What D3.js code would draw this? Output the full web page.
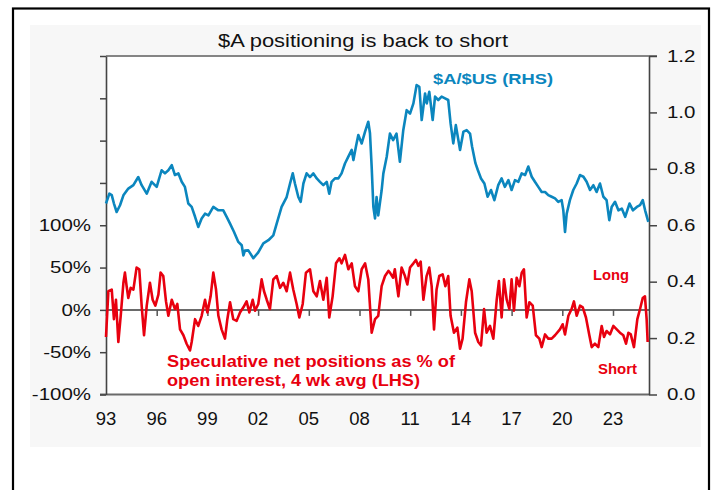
<!DOCTYPE html>
<html><head><meta charset="utf-8">
<script src="https://cdn.jsdelivr.net/npm/d3@7"></script>
<style>
body{margin:0;background:#fff}
svg{display:block}
text{font-family:"Liberation Sans",Arial,sans-serif}
</style>
</head><body>
<svg id="c" width="717" height="490"></svg>
<script>
// ---------- data ----------
const title = "$A positioning is back to short";
const xTickYears = [1993,1996,1999,2002,2005,2008,2011,2014,2017,2020,2023];
const xTickLabels = ["93","96","99","02","05","08","11","14","17","20","23"];
const leftTicks = [-100,-50,0,50,100,150,200,250,300];
const leftLabels = ["-100%","-50%","0%","50%","100%","","","",""];
const rightTicks = [0,0.2,0.4,0.6,0.8,1.0,1.2];
const rightLabels = ["0.0","0.2","0.4","0.6","0.8","1.0","1.2"];

// $A/$US (RHS)
const audT = [1993.00,1993.20,1993.34,1993.47,1993.63,1993.83,1994.03,1994.32,1994.62,1994.91,
1995.11,1995.41,1995.70,1996.00,1996.29,1996.49,1996.69,1996.89,1997.08,1997.28,1997.48,1997.67,
1997.87,1998.07,1998.27,1998.46,1998.66,1998.86,1999.06,1999.35,1999.65,1999.94,2000.14,2000.34,
2000.57,2000.83,2001.03,2001.13,2001.22,2001.42,2001.72,2002.01,2002.31,2002.61,2002.90,2003.10,
2003.39,2003.69,2003.89,2004.05,2004.18,2004.38,2004.52,2004.68,2004.87,2005.07,2005.27,2005.47,
2005.66,2005.86,2006.06,2006.21,2006.35,2006.55,2006.75,2006.94,2007.14,2007.34,2007.54,2007.64,
2007.79,2007.93,2008.13,2008.33,2008.52,2008.62,2008.72,2008.82,2008.92,2009.01,2009.11,2009.31,
2009.41,2009.61,2009.80,2009.99,2010.19,2010.39,2010.59,2010.79,2010.99,2011.19,2011.38,2011.54,
2011.68,2011.88,2011.98,2012.13,2012.33,2012.47,2012.66,2012.86,2013.06,2013.25,2013.39,2013.55,
2013.70,2013.95,2014.15,2014.34,2014.54,2014.66,2014.86,2015.00,2015.19,2015.39,2015.58,2015.78,
2015.98,2016.21,2016.41,2016.60,2016.81,2017.00,2017.20,2017.40,2017.60,2017.80,2017.99,2018.19,
2018.38,2018.58,2018.78,2018.98,2019.17,2019.37,2019.57,2019.76,2019.96,2020.06,2020.16,2020.26,
2020.45,2020.65,2020.85,2021.05,2021.25,2021.44,2021.64,2021.84,2022.03,2022.23,2022.43,2022.62,
2022.78,2022.92,2023.12,2023.32,2023.52,2023.72,2023.98,2024.18,2024.41,2024.60,2024.76,2024.90,2025.09];
const audV = [0.677,0.712,0.707,0.677,0.647,0.671,0.706,0.730,0.742,0.771,
0.742,0.712,0.754,0.736,0.795,0.784,0.795,0.813,0.778,0.784,0.754,0.736,
0.677,0.665,0.630,0.594,0.624,0.641,0.635,0.665,0.653,0.653,0.630,0.606,
0.577,0.541,0.529,0.493,0.510,0.511,0.483,0.504,0.536,0.547,0.564,0.606,
0.665,0.700,0.748,0.784,0.748,0.700,0.683,0.748,0.784,0.771,0.784,0.766,
0.754,0.742,0.754,0.712,0.754,0.766,0.766,0.784,0.819,0.843,0.867,0.831,
0.879,0.920,0.890,0.932,0.967,0.926,0.807,0.665,0.624,0.700,0.635,0.724,
0.783,0.843,0.925,0.902,0.925,0.825,0.937,1.008,0.996,1.032,1.097,1.091,
0.973,1.067,1.032,1.073,0.973,1.056,1.044,1.056,1.050,1.044,0.961,0.890,
0.955,0.867,0.932,0.937,0.925,0.879,0.820,0.796,0.766,0.748,0.701,0.725,
0.689,0.742,0.766,0.736,0.760,0.725,0.760,0.754,0.784,0.778,0.808,0.772,
0.754,0.736,0.718,0.718,0.707,0.701,0.695,0.683,0.689,0.653,0.576,0.641,
0.689,0.725,0.748,0.778,0.772,0.754,0.725,0.742,0.718,0.748,0.701,0.689,
0.618,0.665,0.683,0.653,0.659,0.630,0.677,0.653,0.665,0.671,0.689,0.653,0.612];

// Speculative net positions as % of open interest (LHS)
const posT = [1993.00,1993.14,1993.34,1993.47,1993.59,1993.73,1993.87,1994.03,1994.12,1994.22,
1994.32,1994.46,1994.62,1994.81,1994.97,1995.11,1995.25,1995.41,1995.60,1995.76,1995.92,1996.10,
1996.23,1996.39,1996.55,1996.69,1996.89,1997.08,1997.22,1997.38,1997.58,1997.77,1997.97,1998.07,
1998.27,1998.46,1998.66,1998.86,1999.00,1999.19,1999.35,1999.51,1999.65,1999.84,2000.04,2000.18,
2000.34,2000.53,2000.73,2000.93,2001.13,2001.32,2001.48,2001.68,2001.82,2002.01,2002.21,2002.35,
2002.51,2002.70,2002.90,2003.10,2003.30,2003.49,2003.69,2003.89,2004.08,2004.28,2004.44,2004.64,
2004.83,2005.07,2005.27,2005.47,2005.66,2005.86,2006.06,2006.21,2006.41,2006.61,2006.81,2006.94,
2007.14,2007.34,2007.54,2007.73,2007.93,2008.13,2008.33,2008.52,2008.72,2008.92,2009.11,2009.31,
2009.51,2009.71,2009.80,2009.99,2010.09,2010.30,2010.49,2010.69,2010.83,2010.99,2011.19,2011.34,
2011.48,2011.62,2011.78,2011.97,2012.13,2012.27,2012.41,2012.56,2012.72,2012.92,2013.08,2013.25,
2013.39,2013.59,2013.79,2013.95,2014.10,2014.30,2014.50,2014.64,2014.84,2015.03,2015.19,2015.37,
2015.52,2015.72,2015.92,2016.12,2016.25,2016.41,2016.55,2016.71,2016.87,2017.00,2017.14,2017.30,
2017.46,2017.60,2017.73,2017.89,2018.05,2018.25,2018.44,2018.64,2018.78,2018.98,2019.17,2019.37,
2019.57,2019.86,2020.02,2020.16,2020.36,2020.55,2020.69,2020.85,2021.05,2021.21,2021.40,2021.60,
2021.74,2021.93,2022.13,2022.33,2022.47,2022.62,2022.82,2023.02,2023.22,2023.41,2023.61,2023.77,
2023.91,2024.05,2024.24,2024.44,2024.60,2024.76,2024.89,2024.99,2025.05];
const posV = [-32,22,24,-11,12,-38,-7,32,44,28,
14,26,24,50,48,5,-30,5,32,12,5,18,
44,40,10,-7,12,1,7,-23,-30,-40,-48,-38,
-11,-19,-7,12,-3,16,44,24,-7,-23,-34,-11,
9,-11,-13,-3,3,10,-3,12,-1,7,36,22,
12,1,36,40,26,32,22,44,24,7,-9,7,
44,48,22,16,34,12,38,-9,16,55,61,55,
65,48,55,28,22,48,55,36,-27,-11,-7,28,
40,46,44,38,48,16,50,40,30,50,55,59,
52,57,12,40,50,28,-23,24,40,42,28,40,
-7,-27,-21,-46,-34,9,36,22,-27,-38,-42,1,
-27,-19,-34,12,34,-9,36,12,1,36,-1,38,
28,44,48,-9,9,5,-30,-34,-44,-29,-34,-34,
-30,-23,-17,-29,-7,1,10,-7,5,3,-9,-30,
-44,-40,-44,-19,-32,-25,-29,-19,-23,-27,-30,-40,
-27,-29,-44,-11,1,14,16,-11,-38];

// ---------- drawing ----------
const blue = "#0b86be", red = "#e8000f";
const svg = d3.select("#c");

// outer frame and panel
svg.append("rect").attr("x",30).attr("y",25).attr("width",671).attr("height",422).attr("fill","#f7f7f7");
svg.append("rect").attr("x",106).attr("y",56).attr("width",543).attr("height",338).attr("fill","#fff");
svg.append("rect").attr("x",13).attr("y",8.5).attr("width",696).attr("height",500)
  .attr("fill","none").attr("stroke","#000").attr("stroke-width",2.2);

const x = d3.scaleLinear().domain([1993, 2025.13]).range([106, 649]);
const yL = d3.scaleLinear().domain([-100, 300]).range([394.5, 56]);
const yR = d3.scaleLinear().domain([0, 1.2]).range([394.5, 56]);

// top border & bottom line
svg.append("line").attr("x1",106).attr("x2",657).attr("y1",56).attr("y2",56)
  .attr("stroke","#858585").attr("stroke-width",2.2);
svg.append("line").attr("x1",100).attr("x2",649).attr("y1",yL(-100)).attr("y2",yL(-100))
  .attr("stroke","#6a6a6a").attr("stroke-width",2);

// zero line with x ticks
svg.append("line").attr("x1",106).attr("x2",649).attr("y1",yL(0)).attr("y2",yL(0))
  .attr("stroke","#6a6a6a").attr("stroke-width",2);
const xAxis = svg.append("g").attr("transform",`translate(0,${yL(0)})`)
  .call(d3.axisBottom(x).tickValues(xTickYears).tickSize(6).tickSizeOuter(0).tickFormat(""));
xAxis.select(".domain").remove();
xAxis.selectAll(".tick line").attr("stroke","#555").attr("stroke-width",1.5);

// x labels
svg.append("g").selectAll("text").data(xTickYears).join("text")
  .attr("x", d => x(d)).attr("y", 425)
  .attr("text-anchor","middle").attr("font-size",18.5).attr("fill","#111")
  .text((d,i) => xTickLabels[i]);

// left axis
const sxL = 1.28;
const gL = svg.append("g").attr("transform","translate(106,0)")
  .call(d3.axisLeft(yL).tickValues(leftTicks).tickSize(6).tickSizeOuter(0)
    .tickFormat((d,i) => leftLabels[i]));
gL.select(".domain").attr("stroke","#444").attr("stroke-width",1.6);
gL.selectAll(".tick line").attr("stroke","#444").attr("stroke-width",1.5);
gL.selectAll(".tick text").attr("font-size",16).attr("fill","#111")
  .attr("font-family","'Liberation Sans',Arial,sans-serif")
  .attr("x",-15/sxL).attr("transform",`scale(${sxL},1)`);

// right axis
const sxR = 1.28;
const gR = svg.append("g").attr("transform","translate(649,0)")
  .call(d3.axisRight(yR).tickValues(rightTicks).tickSize(8).tickSizeOuter(0)
    .tickFormat((d,i) => rightLabels[i]));
gR.select(".domain").attr("stroke","#444").attr("stroke-width",1.6);
gR.selectAll(".tick line").attr("stroke","#444").attr("stroke-width",1.5);
gR.selectAll(".tick text").attr("font-size",16).attr("fill","#111")
  .attr("font-family","'Liberation Sans',Arial,sans-serif")
  .attr("x",18/sxR).attr("transform",`scale(${sxR},1)`);

// lines
const audData = audT.map((t,i) => [t, audV[i]]);
const posData = posT.map((t,i) => [t, posV[i]]);
svg.append("path").datum(audData).attr("fill","none").attr("stroke",blue)
  .attr("stroke-width",2.6).attr("stroke-linejoin","round")
  .attr("d", d3.line().x(d => x(d[0])).y(d => yR(d[1])));
svg.append("path").datum(posData).attr("fill","none").attr("stroke",red)
  .attr("stroke-width",2.6).attr("stroke-linejoin","round")
  .attr("d", d3.line().x(d => x(d[0])).y(d => yL(d[1])));

// title
svg.append("text").attr("x",218).attr("y",47).attr("font-size",18.5).attr("fill","#111")
  .attr("textLength",290).attr("lengthAdjust","spacingAndGlyphs").text(title);

// annotations
function note(txt, x0, y0, size, len, col){
  svg.append("text").attr("x",x0).attr("y",y0).attr("font-size",size).attr("font-weight","bold")
    .attr("fill",col).attr("textLength",len).attr("lengthAdjust","spacingAndGlyphs").text(txt);
}
note("$A/$US (RHS)", 433, 83.5, 15, 120, blue);
note("Long", 593, 280, 15, 36, red);
note("Short", 598, 374, 15, 39, red);
note("Speculative net positions as % of", 167, 367, 16, 288, red);
note("open interest, 4 wk avg (LHS)", 167, 386, 16, 253, red);
</script>
</body></html>
